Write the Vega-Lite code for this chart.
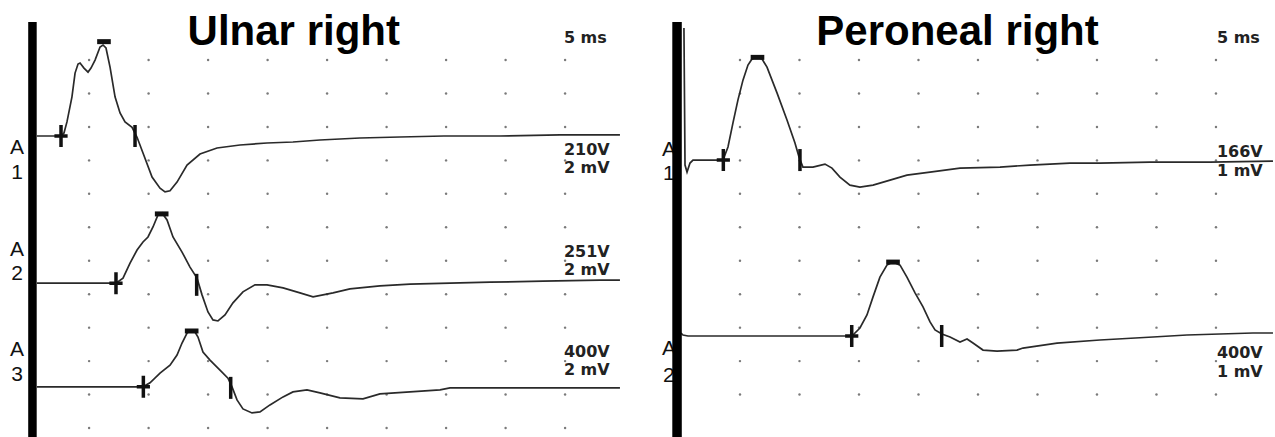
{
  "$schema": "https://vega.github.io/schema/vega-lite/v6.json",
  "padding": 0,
  "spacing": 0,
  "bounds": "flush",
  "background": "white",
  "config": {"view": {"stroke": null}},
  "datasets": {
    "grid": [
      {"p": "L", "v": 0, "t": [5,10,15,20,25,30,35,40,45]},
      {"p": "L", "v": 1, "t": [5,10,15,20,25,30,35,40,45]},
      {"p": "L", "v": 2, "t": [5,10,15,20,25,30,35,40,45]},
      {"p": "L", "v": 3, "t": [5,10,15,20,25,30,35,40,45]},
      {"p": "L", "v": 4, "t": [5,10,15,20,25,30,35,40,45]},
      {"p": "L", "v": 5, "t": [5,10,15,20,25,30,35,40,45]},
      {"p": "L", "v": 6, "t": [5,10,15,20,25,30,35,40,45]},
      {"p": "L", "v": 7, "t": [5,10,15,20,25,30,35,40,45]},
      {"p": "L", "v": 8, "t": [5,10,15,20,25,30,35,40,45]},
      {"p": "L", "v": 9, "t": [5,10,15,20,25,30,35,40,45]},
      {"p": "L", "v": 10, "t": [5,10,15,20,25,30,35,40,45]},
      {"p": "L", "v": 11, "t": [5,10,15,20,25,30,35,40,45]},
      {"p": "R", "v": 1, "t": [5,10,15,20,25,30,35,40,45]},
      {"p": "R", "v": 2, "t": [5,10,15,20,25,30,35,40,45]},
      {"p": "R", "v": 3, "t": [5,10,15,20,25,30,35,40,45]},
      {"p": "R", "v": 4, "t": [5,10,15,20,25,30,35,40,45]},
      {"p": "R", "v": 5, "t": [5,10,15,20,25,30,35,40,45]},
      {"p": "R", "v": 6, "t": [5,10,15,20,25,30,35,40,45]},
      {"p": "R", "v": 7, "t": [5,10,15,20,25,30,35,40,45]},
      {"p": "R", "v": 8, "t": [5,10,15,20,25,30,35,40,45]},
      {"p": "R", "v": 9, "t": [5,10,15,20,25,30,35,40,45]},
      {"p": "R", "v": 10, "t": [5,10,15,20,25,30,35,40,45]},
      {"p": "R", "v": 11, "t": [5,10,15,20,25,30,35,40,45]}
    ],
    "traces": [
      {"p":"L","id":"A1","t":0.62,"v":8.73},{"p":"L","id":"A1","t":2.64,"v":8.73},{"p":"L","id":"A1","t":2.89,"v":8.82},{"p":"L","id":"A1","t":3.14,"v":9.15},{"p":"L","id":"A1","t":3.56,"v":9.90},{"p":"L","id":"A1","t":3.82,"v":10.61},{"p":"L","id":"A1","t":4.07,"v":10.88},{"p":"L","id":"A1","t":4.24,"v":10.91},{"p":"L","id":"A1","t":4.57,"v":10.76},{"p":"L","id":"A1","t":4.91,"v":10.64},{"p":"L","id":"A1","t":5.16,"v":10.76},{"p":"L","id":"A1","t":5.50,"v":11.00},{"p":"L","id":"A1","t":5.92,"v":11.39},{"p":"L","id":"A1","t":6.17,"v":11.45},{"p":"L","id":"A1","t":6.42,"v":11.36},{"p":"L","id":"A1","t":6.76,"v":10.79},{"p":"L","id":"A1","t":7.18,"v":9.90},{"p":"L","id":"A1","t":7.60,"v":9.42},{"p":"L","id":"A1","t":8.02,"v":9.15},{"p":"L","id":"A1","t":8.61,"v":8.99},{"p":"L","id":"A1","t":9.03,"v":8.69},{"p":"L","id":"A1","t":9.53,"v":8.22},{"p":"L","id":"A1","t":10.29,"v":7.50},{"p":"L","id":"A1","t":10.96,"v":7.17},{"p":"L","id":"A1","t":11.38,"v":7.06},{"p":"L","id":"A1","t":11.80,"v":7.09},{"p":"L","id":"A1","t":12.39,"v":7.35},{"p":"L","id":"A1","t":13.23,"v":7.86},{"p":"L","id":"A1","t":14.32,"v":8.19},{"p":"L","id":"A1","t":15.75,"v":8.37},{"p":"L","id":"A1","t":17.68,"v":8.46},{"p":"L","id":"A1","t":19.95,"v":8.52},{"p":"L","id":"A1","t":22.13,"v":8.55},{"p":"L","id":"A1","t":24.40,"v":8.61},{"p":"L","id":"A1","t":27.76,"v":8.67},{"p":"L","id":"A1","t":31.12,"v":8.70},{"p":"L","id":"A1","t":34.82,"v":8.73},{"p":"L","id":"A1","t":39.53,"v":8.73},{"p":"L","id":"A1","t":44.57,"v":8.76},{"p":"L","id":"A1","t":49.61,"v":8.76},
      {"p":"L","id":"A2","t":0.62,"v":4.33},{"p":"L","id":"A2","t":7.26,"v":4.33},{"p":"L","id":"A2","t":7.85,"v":4.48},{"p":"L","id":"A2","t":8.44,"v":4.93},{"p":"L","id":"A2","t":9.03,"v":5.32},{"p":"L","id":"A2","t":9.53,"v":5.56},{"p":"L","id":"A2","t":9.95,"v":5.71},{"p":"L","id":"A2","t":10.37,"v":6.01},{"p":"L","id":"A2","t":10.79,"v":6.37},{"p":"L","id":"A2","t":11.13,"v":6.43},{"p":"L","id":"A2","t":11.55,"v":6.22},{"p":"L","id":"A2","t":12.05,"v":5.71},{"p":"L","id":"A2","t":12.81,"v":5.26},{"p":"L","id":"A2","t":13.48,"v":4.81},{"p":"L","id":"A2","t":14.07,"v":4.48},{"p":"L","id":"A2","t":14.49,"v":3.98},{"p":"L","id":"A2","t":14.99,"v":3.47},{"p":"L","id":"A2","t":15.41,"v":3.23},{"p":"L","id":"A2","t":15.83,"v":3.20},{"p":"L","id":"A2","t":16.42,"v":3.38},{"p":"L","id":"A2","t":17.09,"v":3.74},{"p":"L","id":"A2","t":17.93,"v":4.07},{"p":"L","id":"A2","t":18.94,"v":4.28},{"p":"L","id":"A2","t":19.95,"v":4.28},{"p":"L","id":"A2","t":21.30,"v":4.19},{"p":"L","id":"A2","t":22.72,"v":4.04},{"p":"L","id":"A2","t":23.82,"v":3.92},{"p":"L","id":"A2","t":25.50,"v":4.04},{"p":"L","id":"A2","t":26.92,"v":4.16},{"p":"L","id":"A2","t":29.44,"v":4.25},{"p":"L","id":"A2","t":31.97,"v":4.30},{"p":"L","id":"A2","t":35.33,"v":4.33},{"p":"L","id":"A2","t":38.69,"v":4.36},{"p":"L","id":"A2","t":43.14,"v":4.39},{"p":"L","id":"A2","t":47.93,"v":4.42},{"p":"L","id":"A2","t":49.61,"v":4.42},
      {"p":"L","id":"A3","t":0.62,"v":1.23},{"p":"L","id":"A3","t":9.53,"v":1.23},{"p":"L","id":"A3","t":10.12,"v":1.35},{"p":"L","id":"A3","t":10.96,"v":1.64},{"p":"L","id":"A3","t":11.80,"v":1.88},{"p":"L","id":"A3","t":12.39,"v":2.18},{"p":"L","id":"A3","t":12.81,"v":2.54},{"p":"L","id":"A3","t":13.23,"v":2.84},{"p":"L","id":"A3","t":13.56,"v":2.93},{"p":"L","id":"A3","t":13.90,"v":2.87},{"p":"L","id":"A3","t":14.15,"v":2.72},{"p":"L","id":"A3","t":14.57,"v":2.27},{"p":"L","id":"A3","t":15.16,"v":2.03},{"p":"L","id":"A3","t":16.00,"v":1.73},{"p":"L","id":"A3","t":16.67,"v":1.49},{"p":"L","id":"A3","t":17.01,"v":1.23},{"p":"L","id":"A3","t":17.43,"v":0.84},{"p":"L","id":"A3","t":17.93,"v":0.57},{"p":"L","id":"A3","t":18.69,"v":0.45},{"p":"L","id":"A3","t":19.36,"v":0.48},{"p":"L","id":"A3","t":20.20,"v":0.69},{"p":"L","id":"A3","t":21.30,"v":0.93},{"p":"L","id":"A3","t":22.13,"v":1.08},{"p":"L","id":"A3","t":23.31,"v":1.14},{"p":"L","id":"A3","t":24.40,"v":1.05},{"p":"L","id":"A3","t":26.08,"v":0.90},{"p":"L","id":"A3","t":28.02,"v":0.87},{"p":"L","id":"A3","t":29.44,"v":1.02},{"p":"L","id":"A3","t":31.97,"v":1.08},{"p":"L","id":"A3","t":34.49,"v":1.14},{"p":"L","id":"A3","t":35.33,"v":1.20},{"p":"L","id":"A3","t":39.53,"v":1.20},{"p":"L","id":"A3","t":42.30,"v":1.20},{"p":"L","id":"A3","t":49.61,"v":1.20},
      {"p":"R","id":"R1","t":0.29,"v":11.96},{"p":"R","id":"R1","t":0.38,"v":7.86},{"p":"R","id":"R1","t":0.55,"v":7.65},{"p":"R","id":"R1","t":0.80,"v":7.92},{"p":"R","id":"R1","t":1.05,"v":8.01},{"p":"R","id":"R1","t":3.57,"v":8.01},{"p":"R","id":"R1","t":3.99,"v":8.40},{"p":"R","id":"R1","t":4.41,"v":9.12},{"p":"R","id":"R1","t":4.83,"v":9.81},{"p":"R","id":"R1","t":5.25,"v":10.40},{"p":"R","id":"R1","t":5.67,"v":10.85},{"p":"R","id":"R1","t":6.01,"v":11.03},{"p":"R","id":"R1","t":6.43,"v":11.09},{"p":"R","id":"R1","t":6.85,"v":11.03},{"p":"R","id":"R1","t":7.27,"v":10.79},{"p":"R","id":"R1","t":8.11,"v":10.02},{"p":"R","id":"R1","t":8.95,"v":9.21},{"p":"R","id":"R1","t":9.62,"v":8.52},{"p":"R","id":"R1","t":9.96,"v":8.10},{"p":"R","id":"R1","t":10.29,"v":7.80},{"p":"R","id":"R1","t":11.13,"v":7.80},{"p":"R","id":"R1","t":12.14,"v":7.89},{"p":"R","id":"R1","t":12.73,"v":7.77},{"p":"R","id":"R1","t":13.40,"v":7.50},{"p":"R","id":"R1","t":14.24,"v":7.26},{"p":"R","id":"R1","t":15.08,"v":7.20},{"p":"R","id":"R1","t":16.18,"v":7.26},{"p":"R","id":"R1","t":17.61,"v":7.41},{"p":"R","id":"R1","t":19.03,"v":7.56},{"p":"R","id":"R1","t":20.97,"v":7.65},{"p":"R","id":"R1","t":23.49,"v":7.77},{"p":"R","id":"R1","t":26.85,"v":7.80},{"p":"R","id":"R1","t":29.37,"v":7.86},{"p":"R","id":"R1","t":32.73,"v":7.92},{"p":"R","id":"R1","t":35.25,"v":7.92},{"p":"R","id":"R1","t":39.45,"v":7.95},{"p":"R","id":"R1","t":44.50,"v":7.95},{"p":"R","id":"R1","t":49.79,"v":7.98},
      {"p":"R","id":"R2","t":0.04,"v":2.84},{"p":"R","id":"R2","t":0.21,"v":2.78},{"p":"R","id":"R2","t":0.63,"v":2.75},{"p":"R","id":"R2","t":14.41,"v":2.75},{"p":"R","id":"R2","t":15.08,"v":2.99},{"p":"R","id":"R2","t":15.67,"v":3.38},{"p":"R","id":"R2","t":16.18,"v":3.92},{"p":"R","id":"R2","t":16.76,"v":4.51},{"p":"R","id":"R2","t":17.35,"v":4.87},{"p":"R","id":"R2","t":17.86,"v":4.96},{"p":"R","id":"R2","t":18.45,"v":4.87},{"p":"R","id":"R2","t":19.03,"v":4.51},{"p":"R","id":"R2","t":19.71,"v":4.04},{"p":"R","id":"R2","t":20.38,"v":3.62},{"p":"R","id":"R2","t":20.97,"v":3.17},{"p":"R","id":"R2","t":21.39,"v":2.93},{"p":"R","id":"R2","t":21.97,"v":2.81},{"p":"R","id":"R2","t":22.65,"v":2.72},{"p":"R","id":"R2","t":23.49,"v":2.57},{"p":"R","id":"R2","t":24.08,"v":2.66},{"p":"R","id":"R2","t":24.58,"v":2.54},{"p":"R","id":"R2","t":25.42,"v":2.33},{"p":"R","id":"R2","t":26.60,"v":2.30},{"p":"R","id":"R2","t":28.28,"v":2.33},{"p":"R","id":"R2","t":28.78,"v":2.39},{"p":"R","id":"R2","t":31.64,"v":2.54},{"p":"R","id":"R2","t":35.25,"v":2.63},{"p":"R","id":"R2","t":39.71,"v":2.72},{"p":"R","id":"R2","t":42.56,"v":2.78},{"p":"R","id":"R2","t":48.11,"v":2.84},{"p":"R","id":"R2","t":49.79,"v":2.84}
    ],
    "markers": [
      {"p":"L","k":"onset","t":2.64,"v":8.73},{"p":"L","k":"peak","t":6.25,"v":11.55},{"p":"L","k":"end","t":8.86,"v":8.73},
      {"p":"L","k":"onset","t":7.26,"v":4.33},{"p":"L","k":"peak","t":11.1,"v":6.40},{"p":"L","k":"end","t":14.04,"v":4.28},
      {"p":"L","k":"onset","t":9.56,"v":1.23},{"p":"L","k":"peak","t":13.62,"v":2.90},{"p":"L","k":"end","t":16.9,"v":1.20},
      {"p":"R","k":"onset","t":3.6,"v":8.01},{"p":"R","k":"peak","t":6.47,"v":11.08},{"p":"R","k":"end","t":10.04,"v":8.01},
      {"p":"R","k":"onset","t":14.39,"v":2.75},{"p":"R","k":"peak","t":17.86,"v":4.96},{"p":"R","k":"end","t":21.95,"v":2.75}
    ],
    "texts": [
      {"p":"L","s":"title","label":"Ulnar right","t":22.2,"v":11.45},
      {"p":"R","s":"title","label":"Peroneal right","t":23.28,"v":11.45},
      {"p":"L","s":"chan","label":"A","t":-1.05,"v":8.37},{"p":"L","s":"chan","label":"1","t":-1.05,"v":7.62},
      {"p":"L","s":"chan","label":"A","t":-1.05,"v":5.32},{"p":"L","s":"chan","label":"2","t":-1.05,"v":4.60},
      {"p":"L","s":"chan","label":"A","t":-1.05,"v":2.33},{"p":"L","s":"chan","label":"3","t":-1.05,"v":1.58},
      {"p":"R","s":"chan","label":"A","t":-0.97,"v":8.31},{"p":"R","s":"chan","label":"1","t":-0.97,"v":7.59},
      {"p":"R","s":"chan","label":"A","t":-0.97,"v":2.36},{"p":"R","s":"chan","label":"2","t":-0.97,"v":1.55},
      {"p":"L","s":"set","label":"5 ms","t":44.9,"v":11.66},
      {"p":"L","s":"set","label":"210V","t":44.9,"v":8.31},{"p":"L","s":"set","label":"2 mV","t":44.9,"v":7.77},
      {"p":"L","s":"set","label":"251V","t":44.9,"v":5.26},{"p":"L","s":"set","label":"2 mV","t":44.9,"v":4.72},
      {"p":"L","s":"set","label":"400V","t":44.9,"v":2.27},{"p":"L","s":"set","label":"2 mV","t":44.9,"v":1.73},
      {"p":"R","s":"set","label":"5 ms","t":45.08,"v":11.66},
      {"p":"R","s":"set","label":"166V","t":45.08,"v":8.25},{"p":"R","s":"set","label":"1 mV","t":45.08,"v":7.68},
      {"p":"R","s":"set","label":"400V","t":45.08,"v":2.24},{"p":"R","s":"set","label":"1 mV","t":45.08,"v":1.67}
    ],
    "bars": [
      {"p":"L","t":0.24,"v":12.14,"v2":-0.3},
      {"p":"R","t":-0.29,"v":12.14,"v2":-0.3}
    ]
  },
  "hconcat": [
    {
      "width": 640,
      "height": 437,
      "encoding": {
        "x": {"field": "t", "type": "quantitative", "scale": {"domain": [-2.487, 51.295], "nice": false, "zero": false}, "axis": null},
        "y": {"field": "v", "type": "quantitative", "scale": {"domain": [-0.269, 12.795], "nice": false, "zero": false}, "axis": null}
      },
      "layer": [
        {"data": {"name": "grid"}, "transform": [{"filter": "datum.p === 'L'"}, {"flatten": ["t"]}],
         "mark": {"type": "point", "filled": true, "size": 6, "color": "#7a7a7a", "opacity": 1}},
        {"data": {"name": "traces"}, "transform": [{"filter": "datum.p === 'L'"}],
         "mark": {"type": "line", "color": "#2a2a2a", "strokeWidth": 1.7},
         "encoding": {"detail": {"field": "id", "type": "nominal"}}},
        {"data": {"name": "markers"}, "transform": [{"filter": "datum.p === 'L' && datum.k === 'onset'"}],
         "mark": {"type": "point", "shape": "M-0.6,0H0.6M0,-1V1", "size": 484, "filled": false, "color": "#111111", "strokeWidth": 3.5, "opacity": 1}},
        {"data": {"name": "markers"}, "transform": [{"filter": "datum.p === 'L' && datum.k === 'end'"}],
         "mark": {"type": "point", "shape": "M0,-1V1", "size": 484, "filled": false, "color": "#111111", "strokeWidth": 3.5, "opacity": 1}},
        {"data": {"name": "markers"}, "transform": [{"filter": "datum.p === 'L' && datum.k === 'peak'"}],
         "mark": {"type": "point", "shape": "M-0.62,0H0.62", "size": 484, "filled": false, "color": "#111111", "strokeWidth": 5, "opacity": 1}},
        {"data": {"name": "texts"}, "transform": [{"filter": "datum.p === 'L' && datum.s === 'title'"}],
         "mark": {"type": "text", "font": "Liberation Sans", "fontSize": 42, "fontWeight": "bold", "color": "#000000", "align": "center", "baseline": "alphabetic"},
         "encoding": {"text": {"field": "label"}}},
        {"data": {"name": "texts"}, "transform": [{"filter": "datum.p === 'L' && datum.s === 'chan'"}],
         "mark": {"type": "text", "font": "Liberation Sans", "fontSize": 21, "color": "#111111", "align": "center", "baseline": "middle"},
         "encoding": {"text": {"field": "label"}}},
        {"data": {"name": "texts"}, "transform": [{"filter": "datum.p === 'L' && datum.s === 'set'"}],
         "mark": {"type": "text", "font": "DejaVu Sans", "fontSize": 16, "fontWeight": "bold", "color": "#222222", "align": "left", "baseline": "middle"},
         "encoding": {"text": {"field": "label"}}},
        {"data": {"name": "bars"}, "transform": [{"filter": "datum.p === 'L'"}],
         "mark": {"type": "rule", "color": "#000000", "strokeWidth": 8.5, "strokeCap": "butt"},
         "encoding": {"y2": {"field": "v2"}}}
      ]
    },
    {
      "width": 635,
      "height": 437,
      "encoding": {
        "x": {"field": "t", "type": "quantitative", "scale": {"domain": [-3.403, 49.96], "nice": false, "zero": false}, "axis": null},
        "y": {"field": "v", "type": "quantitative", "scale": {"domain": [-0.269, 12.795], "nice": false, "zero": false}, "axis": null}
      },
      "layer": [
        {"data": {"name": "grid"}, "transform": [{"filter": "datum.p === 'R'"}, {"flatten": ["t"]}],
         "mark": {"type": "point", "filled": true, "size": 6, "color": "#7a7a7a", "opacity": 1}},
        {"data": {"name": "traces"}, "transform": [{"filter": "datum.p === 'R'"}],
         "mark": {"type": "line", "color": "#2a2a2a", "strokeWidth": 1.7},
         "encoding": {"detail": {"field": "id", "type": "nominal"}}},
        {"data": {"name": "markers"}, "transform": [{"filter": "datum.p === 'R' && datum.k === 'onset'"}],
         "mark": {"type": "point", "shape": "M-0.6,0H0.6M0,-1V1", "size": 484, "filled": false, "color": "#111111", "strokeWidth": 3.5, "opacity": 1}},
        {"data": {"name": "markers"}, "transform": [{"filter": "datum.p === 'R' && datum.k === 'end'"}],
         "mark": {"type": "point", "shape": "M0,-1V1", "size": 484, "filled": false, "color": "#111111", "strokeWidth": 3.5, "opacity": 1}},
        {"data": {"name": "markers"}, "transform": [{"filter": "datum.p === 'R' && datum.k === 'peak'"}],
         "mark": {"type": "point", "shape": "M-0.62,0H0.62", "size": 484, "filled": false, "color": "#111111", "strokeWidth": 5, "opacity": 1}},
        {"data": {"name": "texts"}, "transform": [{"filter": "datum.p === 'R' && datum.s === 'title'"}],
         "mark": {"type": "text", "font": "Liberation Sans", "fontSize": 42, "fontWeight": "bold", "color": "#000000", "align": "center", "baseline": "alphabetic"},
         "encoding": {"text": {"field": "label"}}},
        {"data": {"name": "texts"}, "transform": [{"filter": "datum.p === 'R' && datum.s === 'chan'"}],
         "mark": {"type": "text", "font": "Liberation Sans", "fontSize": 21, "color": "#111111", "align": "center", "baseline": "middle"},
         "encoding": {"text": {"field": "label"}}},
        {"data": {"name": "texts"}, "transform": [{"filter": "datum.p === 'R' && datum.s === 'set'"}],
         "mark": {"type": "text", "font": "DejaVu Sans", "fontSize": 16, "fontWeight": "bold", "color": "#222222", "align": "left", "baseline": "middle"},
         "encoding": {"text": {"field": "label"}}},
        {"data": {"name": "bars"}, "transform": [{"filter": "datum.p === 'R'"}],
         "mark": {"type": "rule", "color": "#000000", "strokeWidth": 9.5, "strokeCap": "butt"},
         "encoding": {"y2": {"field": "v2"}}}
      ]
    }
  ]
}
